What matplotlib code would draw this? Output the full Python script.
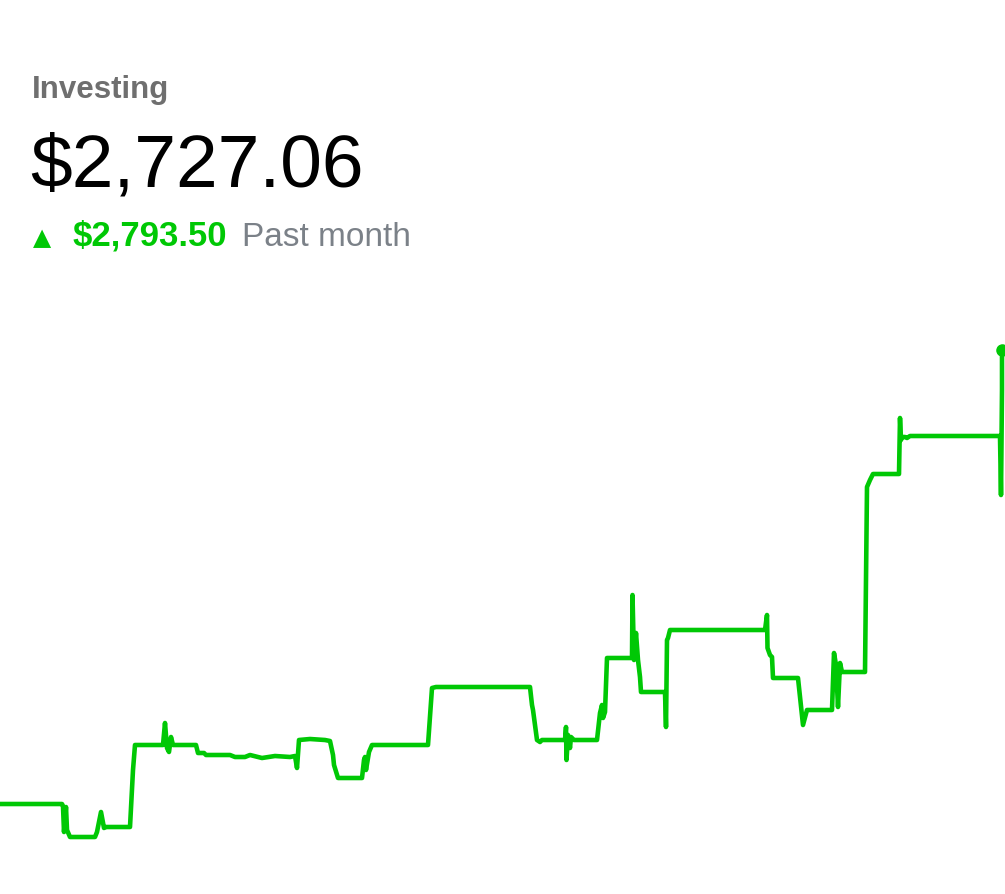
import matplotlib
matplotlib.use('Agg')
import matplotlib.pyplot as plt

# portfolio trace over the past month (arbitrary time steps, value units)
steps = [0, 62, 63, 64, 66, 67, 70, 95, 97, 101, 104, 106, 130, 133, 135, 163, 165, 167, 169, 171,
         173, 196, 198, 204, 206, 230, 235, 245, 250, 262, 275, 290, 295, 297, 299, 310, 325, 330,
         333, 334, 338, 362, 364, 365, 366, 369, 372, 400, 428, 432, 436, 530, 532, 533, 537, 540,
         542, 565, 566, 566.5, 568, 570, 571, 574, 597, 600, 602, 603, 605, 607, 632, 632.5, 634,
         636, 638, 640, 641, 665, 666, 667, 668, 670, 765, 767, 767.5, 770, 772, 773, 798, 803, 807,
         832, 834, 836, 838, 840, 842, 865, 867, 870, 873, 899, 900, 901, 902, 905, 907, 910, 1000,
         1001, 1002, 1002]
values = [90, 90, 88, 62, 87, 64, 57, 57, 62, 82, 66, 67, 67, 124, 149, 149, 171, 146, 142, 157,
          149, 149, 141, 141, 139, 139, 137, 137, 139, 136, 138, 137, 138, 126, 154, 155, 154, 153,
          139, 129, 116, 116, 134, 137, 124, 142, 149, 149, 149, 206, 207, 207, 189, 184, 154, 152,
          154, 154, 167, 134, 159, 146, 157, 154, 154, 181, 189, 176, 182, 236, 236, 299, 234,
          261, 234, 217, 202, 202, 167, 254, 256, 264, 264, 279, 246, 239, 237, 216, 216, 169, 184,
          184, 241, 229, 187, 231, 222, 222, 407, 414, 420, 420, 476, 454, 457, 457, 456, 458, 458,
          399, 504, 544]

title = 'Investing'
balance = '$2,727.06'
change = '$2,793.50'
period = 'Past month'

green = '#00c805'

fig = plt.figure(figsize=(10.05, 8.94), dpi=100)
ax = fig.add_axes([0, 0, 1, 1])
ax.plot(steps, values, color=green, lw=3.3, solid_joinstyle='round', solid_capstyle='round')
ax.plot(steps[-1], values[-1], 'o', color=green, ms=8, clip_on=False)
ax.set_xlim(0, 1005)
ax.set_ylim(0, 894)
ax.axis('off')

def px(x, y):
    return x / 1005, 1 - y / 894

fig.text(*px(32, 98), title, fontsize=22.5, fontweight='bold', color='#6f6f6f',
         family='Liberation Sans', va='baseline')
fig.text(*px(30, 186), balance, fontsize=54, color='black',
         family='Liberation Sans', va='baseline')
fig.text(*px(33, 245), '▲', fontsize=17, color=green, family='DejaVu Sans', va='baseline')
fig.text(*px(73, 246), change, fontsize=25, fontweight='bold', color=green,
         family='Liberation Sans', va='baseline')
fig.text(*px(242, 246), period, fontsize=24, color='#7b8188',
         family='Liberation Sans', va='baseline')

fig.savefig('out.png', dpi=100)
